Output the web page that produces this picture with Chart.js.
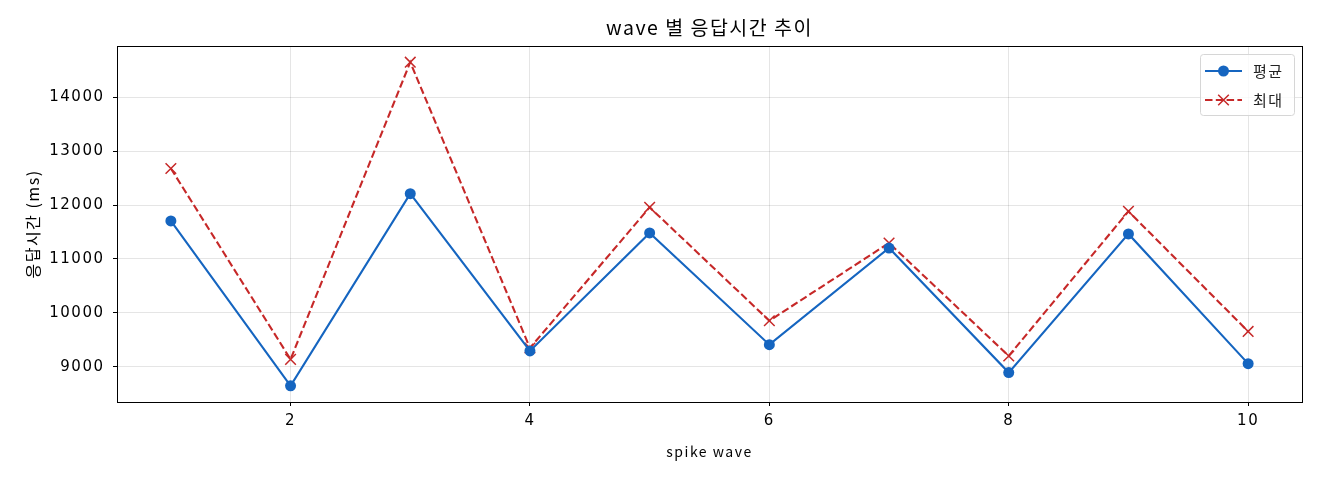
<!DOCTYPE html>
<html>
<head>
<meta charset="utf-8">
<script src="https://cdn.jsdelivr.net/npm/chart.js@4.4.1/dist/chart.umd.min.js"></script>
<style>
html,body{margin:0;padding:0;background:#fff;}
#wrap{width:1320px;height:480px;}
</style>
</head>
<body>
<div id="wrap"><canvas id="c" width="1320" height="480"></canvas></div>
<script>
const waves = [1,2,3,4,5,6,7,8,9,10];
const avgValues = [11705,8650,12210,9296,11482,9412,11203,8895,11464,9061];
const maxValues = [12677,9140,14646,9351,11957,9856,11296,9203,11883,9658];
const xTicks = [2,4,6,8,10];
const yTicks = [9000,10000,11000,12000,13000,14000];
const seriesNames = ['평균','최대'];
const titleText = 'wave 별 응답시간 추이';
const xTitle = 'spike wave';
const yTitle = '응답시간 (ms)';

const KFONT = "'Noto Sans CJK KR', 'Noto Sans', sans-serif";
const NFONT = "'DejaVu Sans', 'Noto Sans CJK KR', sans-serif";
const BLUE = '#1565C0';
const RED = '#C62828';
const SPACING = '1.5px';

const spacingPlugin = {
  id: 'spacing',
  beforeUpdate(chart){ chart.ctx.letterSpacing = SPACING; },
  beforeLayout(chart){ chart.ctx.letterSpacing = SPACING; },
  beforeDraw(chart){ chart.ctx.letterSpacing = SPACING; }
};

const framePlugin = {
  id: 'frame',
  afterDatasetsDraw(chart){
    const {ctx, chartArea:a} = chart;
    ctx.save();
    ctx.strokeStyle = '#000';
    ctx.lineWidth = 1;
    ctx.strokeRect(Math.round(a.left)+0.5, Math.round(a.top)+0.5, Math.round(a.right-a.left), Math.round(a.bottom-a.top));
    ctx.restore();
  },
  afterDraw(chart){
    const {ctx, chartArea:a} = chart;
    const ds = chart.data.datasets;
    const bw = 94, bh = 61;
    const bx = a.right - 8 - bw, by = a.top + 8;
    ctx.save();
    ctx.letterSpacing = SPACING;
    ctx.globalAlpha = 0.8;
    ctx.fillStyle = '#fff';
    ctx.beginPath();
    ctx.roundRect(bx+0.5, by+0.5, bw, bh, 3);
    ctx.fill();
    ctx.globalAlpha = 1;
    ctx.strokeStyle = '#d6d6d6';
    ctx.lineWidth = 1;
    ctx.stroke();
    ds.forEach((d, i) => {
      const y = by + 17 + i * 29;
      const x0 = bx + 5, x1 = bx + 42, xm = (x0 + x1) / 2;
      ctx.strokeStyle = d.borderColor;
      ctx.lineWidth = d.borderWidth;
      ctx.setLineDash(d.borderDash || []);
      ctx.beginPath();
      ctx.moveTo(x0, y); ctx.lineTo(x1, y);
      ctx.stroke();
      ctx.setLineDash([]);
      if (d.pointStyle === 'circle') {
        ctx.fillStyle = d.pointBackgroundColor;
        ctx.beginPath(); ctx.arc(xm, y, d.pointRadius, 0, Math.PI*2); ctx.fill();
      } else {
        const r = d.pointRadius * Math.SQRT1_2;
        ctx.lineWidth = d.pointBorderWidth;
        ctx.strokeStyle = d.pointBorderColor;
        ctx.beginPath();
        ctx.moveTo(xm - r, y - r); ctx.lineTo(xm + r, y + r);
        ctx.moveTo(xm - r, y + r); ctx.lineTo(xm + r, y - r);
        ctx.stroke();
      }
      ctx.fillStyle = '#222';
      ctx.font = '15px ' + KFONT;
      ctx.textBaseline = 'middle';
      ctx.fillText(d.label, bx + 53, y);
    });
    ctx.restore();
  }
};

new Chart(document.getElementById('c'), {
  type: 'line',
  data: {
    datasets: [
      {
        label: seriesNames[0],
        data: waves.map((w, i) => ({x: w, y: avgValues[i]})),
        borderColor: BLUE, backgroundColor: BLUE,
        borderWidth: 2.1,
        pointStyle: 'circle', pointRadius: 5.5, pointHoverRadius: 5.5,
        pointBackgroundColor: BLUE, pointBorderColor: BLUE, pointBorderWidth: 0,
        tension: 0
      },
      {
        label: seriesNames[1],
        data: waves.map((w, i) => ({x: w, y: maxValues[i]})),
        borderColor: RED, backgroundColor: RED,
        borderWidth: 2.1, borderDash: [7.5, 3.3],
        pointStyle: 'crossRot', pointRadius: 7.5, pointHoverRadius: 7.5,
        pointBackgroundColor: RED, pointBorderColor: RED, pointBorderWidth: 1.5,
        tension: 0
      }
    ]
  },
  options: {
    responsive: false,
    animation: false,
    devicePixelRatio: 1,
    layout: {padding: {left: 0, right: 18, top: 0, bottom: 0}},
    plugins: {
      legend: {display: false},
      tooltip: {enabled: false},
      title: {
        display: true, text: titleText, color: '#000', fullSize: false,
        font: {family: KFONT, size: 19.5, weight: 'normal', lineHeight: 1.2},
        padding: {top: 16, bottom: 6.6}
      }
    },
    scales: {
      x: {
        type: 'linear', min: 0.55, max: 10.45,
        afterBuildTicks(s){ s.ticks = xTicks.map(v => ({value: v})); },
        afterFit(s){ s.height = 78; },
        grid: {color: 'rgba(0,0,0,0.1)', tickColor: '#000', tickLength: 4, drawTicks: true},
        border: {display: true, color: '#000'},
        ticks: {color: '#000', font: {family: NFONT, size: 15}, padding: 6, maxRotation: 0, autoSkip: false},
        title: {display: true, text: xTitle, color: '#000', font: {family: KFONT, size: 14, lineHeight: 1.2}, padding: {top: 0, bottom: 20}}
      },
      y: {
        type: 'linear', min: 8350, max: 14946,
        afterBuildTicks(s){ s.ticks = yTicks.map(v => ({value: v})); },
        afterFit(s){ s.width = 117; },
        grid: {color: 'rgba(0,0,0,0.1)', tickColor: '#000', tickLength: 4, drawTicks: true},
        border: {display: true, color: '#000'},
        ticks: {color: '#000', font: {family: NFONT, size: 15}, padding: 8.5, autoSkip: false,
          callback: v => String(v)},
        title: {display: true, text: yTitle, color: '#000', font: {family: KFONT, size: 16, lineHeight: 1.2}, padding: {top: 23, bottom: 0}}
      }
    }
  },
  plugins: [spacingPlugin, framePlugin]
});
</script>
</body>
</html>
